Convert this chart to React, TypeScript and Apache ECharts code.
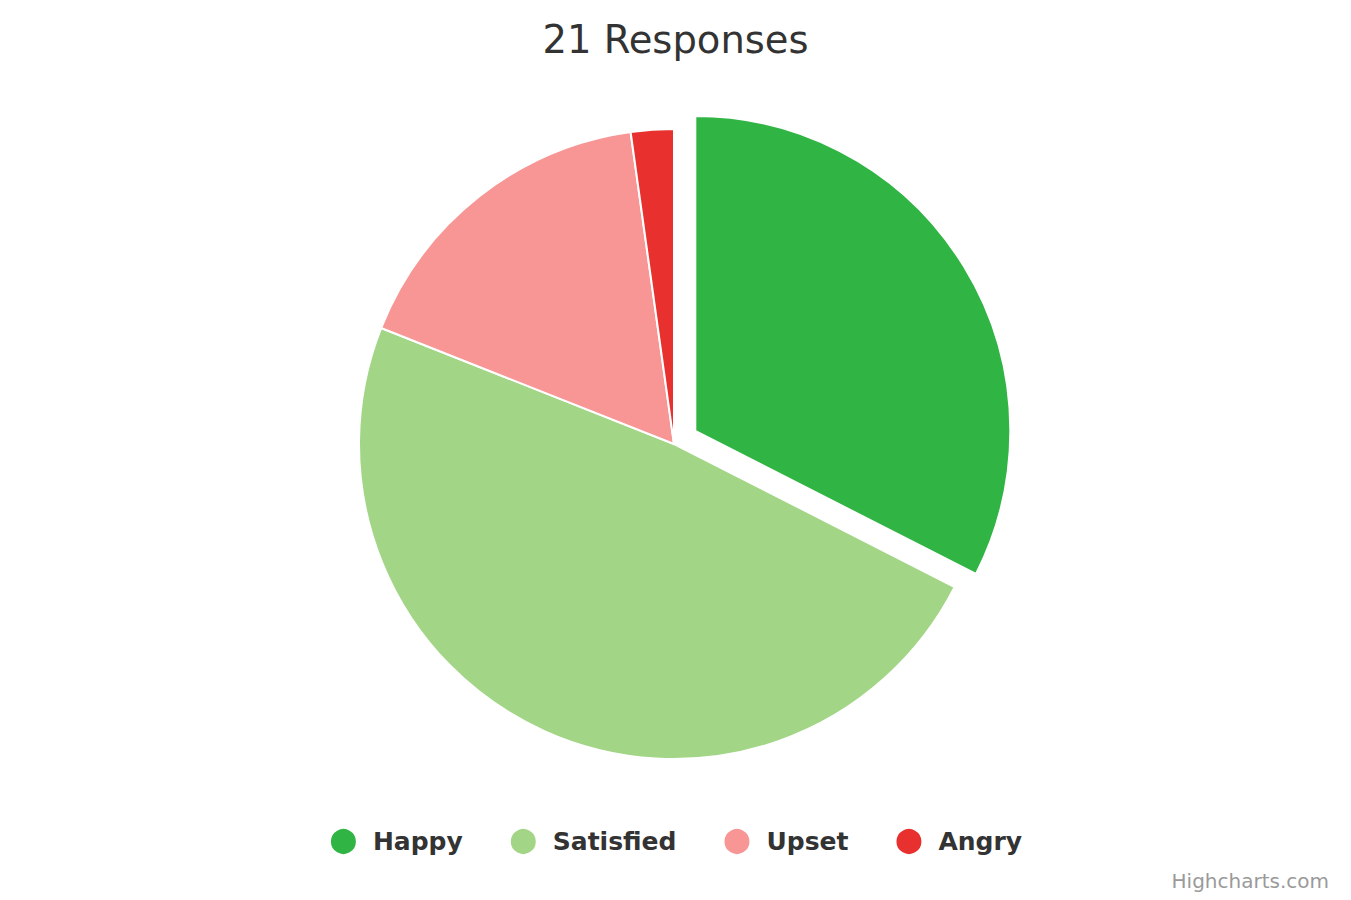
import React, { useEffect, useRef } from "react";
import * as echarts from "echarts";

const titleText = "21 Responses";
const categories = ["Happy", "Satisfied", "Upset", "Angry"];
const values = [32.5, 48.5, 16.8, 2.2];
const colors = ["#30b444", "#a3d587", "#f89696", "#e8302e"];
const selectedCategory = "Happy";
const creditText = "Highcharts.com";

export default function App() {
  const ref = useRef<HTMLDivElement>(null);
  useEffect(() => {
    if (!ref.current) return;
    const chart = echarts.init(ref.current, undefined, { renderer: "svg" });
    const font = "'DejaVu Sans', Verdana, sans-serif";
    chart.setOption({
      animation: false,
      backgroundColor: "#ffffff",
      title: {
        text: titleText,
        left: "center",
        top: 15,
        textStyle: { fontFamily: font, fontSize: 38.5, fontWeight: "normal", color: "#333333" },
      },
      legend: {
        data: categories,
        icon: "circle",
        left: "center",
        top: 822,
        itemWidth: 27,
        itemHeight: 27,
        itemGap: 46,
        textStyle: {
          fontFamily: font,
          fontSize: 25,
          fontWeight: "bold",
          color: "#333333",
          padding: [0, 0, 0, 11],
        },
      },
      graphic: [
        {
          type: "text",
          right: 22,
          top: 871,
          style: { text: creditText, fontFamily: font, fontSize: 20, fill: "#9a9a9a" },
        },
      ],
      series: [
        {
          type: "pie",
          center: [674, 444],
          radius: 315,
          startAngle: 90,
          clockwise: true,
          selectedMode: "single",
          selectedOffset: 25,
          label: { show: false },
          labelLine: { show: false },
          emphasis: { disabled: true },
          itemStyle: { borderColor: "#ffffff", borderWidth: 2 },
          data: categories.map((name, i) => ({
            name,
            value: values[i],
            selected: name === selectedCategory,
            itemStyle: { color: colors[i] },
          })),
        },
      ],
    });
    return () => chart.dispose();
  }, []);
  return (
    <div
      ref={ref}
      style={{ position: "absolute", left: 0, top: 0, width: 1351, height: 900 }}
    />
  );
}
